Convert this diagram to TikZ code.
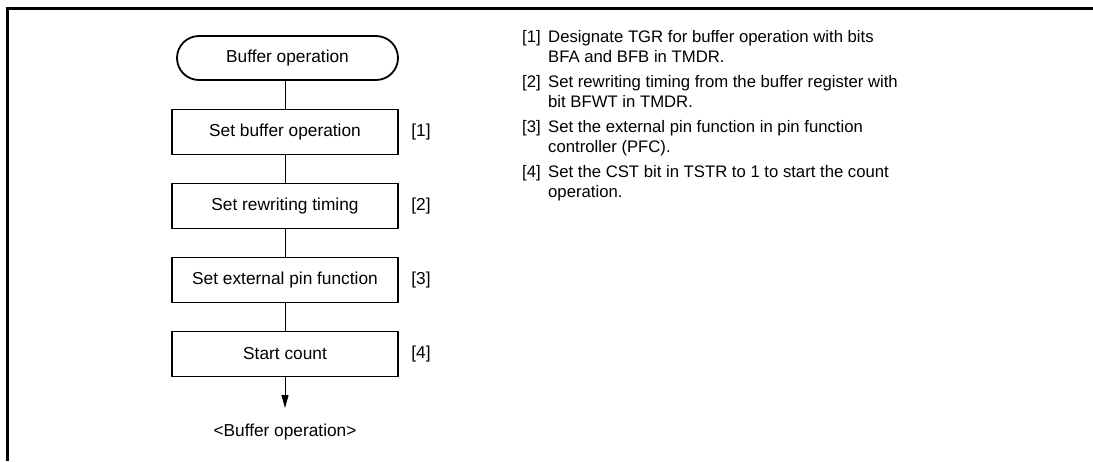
\documentclass[tikz,border=0pt]{standalone}
\usepackage{fontspec}
\setmainfont{Liberation Sans}
\usetikzlibrary{arrows.meta,shapes.misc}
\newcommand{\fsz}{\fontsize{16.7}{20}\selectfont}
\newcommand{\bsz}{\fontsize{17.3}{20}\selectfont}
\tikzset{
  proc/.style={draw, line width=1.8pt, minimum width=226pt, minimum height=45pt, inner sep=0pt, font=\bsz},
  term/.style={draw, rounded rectangle, line width=1.8pt, minimum width=221pt, minimum height=44pt, inner sep=0pt, font=\bsz},
  conn/.style={line width=1pt},
  tag/.style={font=\bsz, inner sep=0pt},
  note/.style={font=\fsz, inner sep=0pt, anchor=north west, align=left},
}
\begin{document}
\begin{tikzpicture}[x=1pt,y=-1pt]
\useasboundingbox (0,0) rectangle (1093,461);
\draw[line width=3pt] (7,461) -- (7,8) -- (1093,8);

\node[term] (t) at (287.5,58) {Buffer operation};
\node[proc] (b1) at (285,132) {Set buffer operation};
\node[proc] (b2) at (285,206) {Set rewriting timing};
\node[proc] (b3) at (285,280) {Set external pin function};
\node[proc] (b4) at (285,354) {Start count};
\coordinate (end) at (285,408);
\node[tag] (lab) at (285,432) {<Buffer operation>};

\draw[conn] (b1.north |- t.south) -- (b1);
\draw[conn] (b1) -- (b2);
\draw[conn] (b2) -- (b3);
\draw[conn] (b3) -- (b4);
\draw[conn,-{Triangle[length=13pt,width=7pt]}] (b4) -- (end);

\node[tag] (l1) at (421,132) {[1]};
\node[tag] (l2) at (421,206) {[2]};
\node[tag] (l3) at (421,280) {[3]};
\node[tag] (l4) at (421,354) {[4]};

\node[note] (n1k) at (522,30) {[1]};
\node[note] (n1) at (548,30) {Designate TGR for buffer operation with bits\\BFA and BFB in TMDR.};
\node[note] (n2k) at (522,75) {[2]};
\node[note] (n2) at (548,75) {Set rewriting timing from the buffer register with\\bit BFWT in TMDR.};
\node[note] (n3k) at (522,120) {[3]};
\node[note] (n3) at (548,120) {Set the external pin function in pin function\\controller (PFC).};
\node[note] (n4k) at (522,165) {[4]};
\node[note] (n4) at (548,165) {Set the CST bit in TSTR to 1 to start the count\\operation.};
\end{tikzpicture}
\end{document}
